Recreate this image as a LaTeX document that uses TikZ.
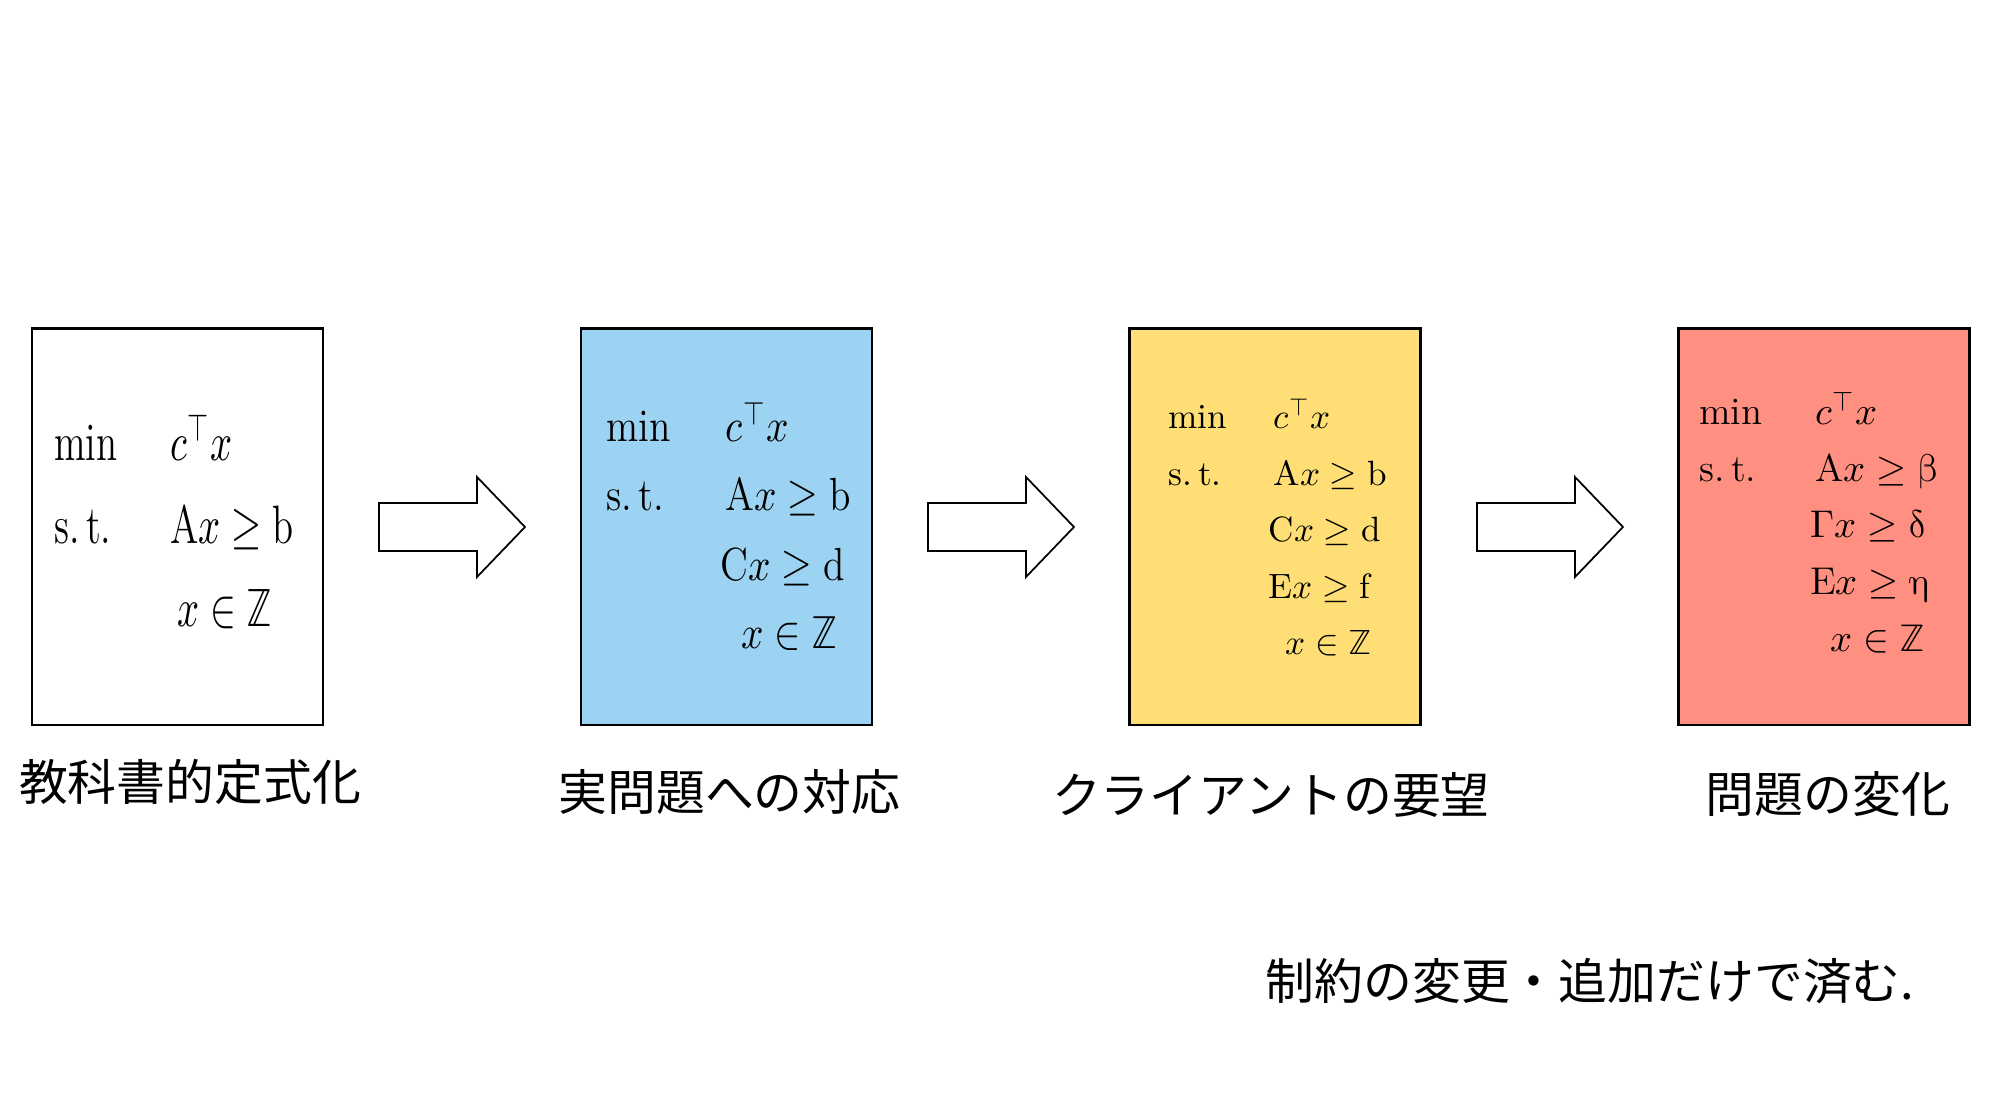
\documentclass[tikz,border=0pt]{standalone}
\usepackage{fontspec}
\usepackage{unicode-math}
\newfontfamily\jpfont{Noto Sans CJK JP}
\usepackage{tikz}
\usetikzlibrary{positioning,calc}

\definecolor{probblue}{RGB}{157,211,242}
\definecolor{probyellow}{RGB}{255,223,117}
\definecolor{probred}{RGB}{255,143,128}

\tikzset{
  probbox/.style={draw, line width=0.85pt, minimum width=2.91cm, minimum height=3.96cm, inner sep=0pt},
  rowtext/.style={anchor=base west, inner sep=0pt},
  jplabel/.style={anchor=base, inner sep=0pt, font=\jpfont\fontsize{13.9}{16}\selectfont},
  blockarrow/.style={draw, line width=0.5pt, fill=white, line join=miter},
}

\begin{document}
\begin{tikzpicture}
  \useasboundingbox (0,0) rectangle (20,11.11);

  % the four formulations
  \node[probbox] (box1) at (1.775,5.84) {};
  \node[probbox, fill=probblue, right=2.55cm of box1] (box2) {};
  \node[probbox, fill=probyellow, right=2.55cm of box2] (box3) {};
  \node[probbox, fill=probred, right=2.55cm of box3] (box4) {};

  % block arrows between them
  \foreach \a/\b in {box1/box2, box2/box3, box3/box4}
    \draw[blockarrow] ($(\a.east)!0.5!(\b.west)$) ++(-0.73,0.24) -- ++(0.98,0) -- ++(0,0.26)
      -- ++(0.48,-0.50) -- ++(-0.48,-0.50) -- ++(0,0.26) -- ++(-0.98,0) -- cycle;

  % box contents
  \foreach \dx/\dy/\txt [count=\i] in {0.23/-1.33/{min}, 1.39/-1.33/{$c^{\top}x$},
      0.23/-2.16/{s.\,t.}, 1.39/-2.16/{$\mathrm{A}x \geq \mathrm{b}$}, 1.46/-2.99/{$x \in \mathbb{Z}$}}
    \node[rowtext, font=\fontsize{11}{13}\selectfont, yscale=1.4] (b1r\i) at ([shift={(\dx,\dy)}]box1.north west) {\txt};

  \foreach \dx/\dy/\txt [count=\i] in {0.26/-1.14/{min}, 1.45/-1.14/{$c^{\top}x$},
      0.26/-1.83/{s.\,t.}, 1.45/-1.83/{$\mathrm{A}x \geq \mathrm{b}$}, 1.40/-2.53/{$\mathrm{C}x \geq \mathrm{d}$},
      1.61/-3.21/{$x \in \mathbb{Z}$}}
    \node[rowtext, font=\fontsize{11.2}{13}\selectfont, yscale=1.18] (b2r\i) at ([shift={(\dx,\dy)}]box2.north west) {\txt};

  \foreach \dx/\dy/\txt [count=\i] in {0.395/-1.01/{min}, 1.445/-1.01/{$c^{\top}x$},
      0.395/-1.58/{s.\,t.}, 1.445/-1.58/{$\mathrm{A}x \geq \mathrm{b}$}, 1.395/-2.14/{$\mathrm{C}x \geq \mathrm{d}$},
      1.395/-2.71/{$\mathrm{E}x \geq \mathrm{f}$}, 1.565/-3.27/{$x \in \mathbb{Z}$}}
    \node[rowtext, font=\fontsize{10}{12}\selectfont] (b3r\i) at ([shift={(\dx,\dy)}]box3.north west) {\txt};

  \foreach \dx/\dy/\txt [count=\i] in {0.21/-0.97/{min}, 1.37/-0.97/{$c^{\top}x$},
      0.21/-1.54/{s.\,t.}, 1.37/-1.54/{$\mathrm{A}x \geq \symup{\beta}$}, 1.32/-2.10/{$\symup{\Gamma}x \geq \symup{\delta}$},
      1.32/-2.67/{$\mathrm{E}x \geq \symup{\eta}$}, 1.52/-3.24/{$x \in \mathbb{Z}$}}
    \node[rowtext, font=\fontsize{11}{13}\selectfont] (b4r\i) at ([shift={(\dx,\dy)}]box4.north west) {\txt};

  % captions
  \node[jplabel] (lab1) at ([shift={(0.125,-0.74)}]box1.south) {教科書的定式化};
  \node[jplabel] (lab2) at ([shift={(0.03,-0.84)}]box2.south) {実問題への対応};
  \node[jplabel] (lab3) at ([shift={(-0.045,-0.87)}]box3.south) {クライアントの要望};
  \node[jplabel] (lab4) at ([shift={(0.035,-0.86)}]box4.south) {問題の変化};

  \node[jplabel, anchor=base west] (note) at (12.65,1.11) {制約の変更・追加だけで済む.};
\end{tikzpicture}
\end{document}
